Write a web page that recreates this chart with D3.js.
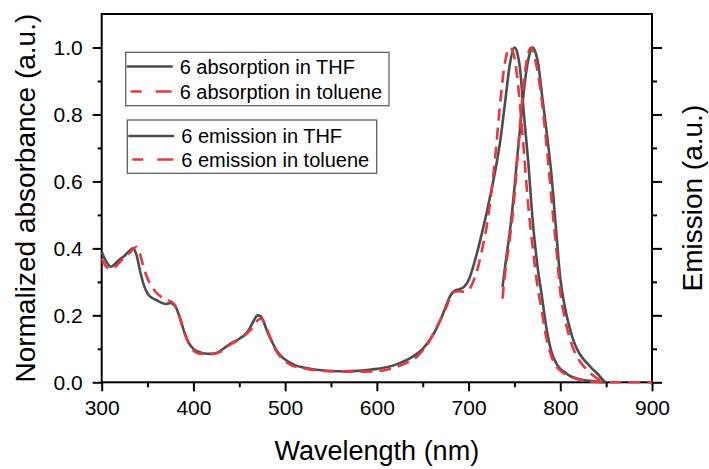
<!DOCTYPE html>
<html>
<head>
<meta charset="utf-8">
<script src="https://cdn.jsdelivr.net/npm/d3@7"></script>
<style>
  html, body { margin: 0; padding: 0; background: #fff; }
  svg { display: block; font-family: "Liberation Sans", Arial, sans-serif; }
</style>
</head>
<body>
<svg id="chart" width="709" height="469"></svg>
<script>
// Absorption of 6 in THF (normalized)
const absTHFWl = [300,305,310,315,320,325,330,334,338,342,346,350,355,360,365,370,375,380,385,390,395,400,405,410,420,425,430,435,440,445,450,455,460,465,470,473,476,480,485,490,495,500,510,520,530,540,560,580,600,620,640,650,660,670,675,680,685,690,695,700,705,710,715,720,725,730,735,740,745,750,753,756,760,765,770,775,780,785,790,795,800,805,810,820,830,840,850];
const absTHF   = [0.39,0.36,0.345,0.355,0.368,0.378,0.392,0.40,0.38,0.33,0.29,0.265,0.252,0.245,0.238,0.234,0.237,0.228,0.195,0.15,0.118,0.10,0.092,0.087,0.085,0.087,0.095,0.105,0.115,0.122,0.13,0.14,0.155,0.18,0.20,0.198,0.185,0.155,0.125,0.098,0.08,0.068,0.052,0.044,0.039,0.036,0.033,0.034,0.04,0.052,0.078,0.10,0.136,0.19,0.225,0.258,0.274,0.278,0.285,0.305,0.345,0.395,0.45,0.51,0.575,0.645,0.73,0.84,0.95,1.0,0.985,0.94,0.81,0.66,0.48,0.35,0.256,0.16,0.095,0.06,0.04,0.03,0.02,0.01,0.005,0.002,0.0];

// Absorption of 6 in toluene (normalized)
const absTolWl = [300,305,310,315,320,325,330,335,338,341,345,350,355,360,365,370,375,380,385,390,395,400,405,410,420,430,436,445,451,458,465,470,474,477,480,485,491,497,506,520,540,560,580,600,620,630,643,650,658,665,670,676,683,690,695,700,705,710,715,720,725,730,735,740,745,750,755,760,765,770,775,780,785,790,795,800,810,820,830,840,850,870,900];
const absTol   = [0.37,0.345,0.338,0.345,0.36,0.375,0.385,0.40,0.405,0.39,0.35,0.31,0.285,0.266,0.255,0.248,0.242,0.23,0.195,0.15,0.115,0.095,0.087,0.085,0.085,0.092,0.105,0.12,0.13,0.145,0.165,0.185,0.19,0.18,0.16,0.125,0.09,0.07,0.052,0.042,0.034,0.032,0.032,0.033,0.045,0.055,0.075,0.095,0.126,0.165,0.19,0.226,0.268,0.272,0.27,0.275,0.30,0.34,0.40,0.47,0.57,0.70,0.85,0.96,1.0,0.97,0.86,0.70,0.53,0.40,0.29,0.21,0.13,0.08,0.05,0.035,0.018,0.008,0.003,0.001,0.0,0.0,0.0];

// Emission of 6 in THF (normalized)
const emTHFWl = [737,741,745,750,753,758,763,767,770,773,776,780,785,790,795,800,805,810,815,820,825,830,835,840,845,849];
const emTHF   = [0.285,0.37,0.45,0.58,0.67,0.81,0.93,0.985,1.0,0.985,0.95,0.86,0.75,0.63,0.47,0.31,0.225,0.165,0.12,0.09,0.07,0.055,0.04,0.027,0.012,0.0];

// Emission of 6 in toluene (normalized)
const emTolWl = [737,740,745,749,755,760,764,768,772,776,782,787,792,796,800,805,810,815,822,830,840,847];
const emTol   = [0.25,0.33,0.43,0.524,0.73,0.89,0.97,1.0,0.97,0.917,0.79,0.65,0.5,0.39,0.27,0.19,0.135,0.095,0.06,0.035,0.012,0.0];

const xTicks = [300,400,500,600,700,800,900];
const yTicks = [0.0,0.2,0.4,0.6,0.8,1.0];
const legendAbs = ["6 absorption in THF", "6 absorption in toluene"];
const legendEm  = ["6 emission in THF", "6 emission in toluene"];

const GREY = "#4d4d4d";
const RED = "#e8383f";
const DASH = "12,7";

const svg = d3.select("#chart");
const plot = { left: 101.7, right: 652, top: 14, bottom: 382.3 };

const x = d3.scaleLinear().domain([300, 900]).range([plot.left, plot.right]);
const y = d3.scaleLinear().domain([0, 1.1]).range([plot.bottom, plot.top]);
const y2 = d3.scaleLinear().domain([0, 1.1]).range([plot.bottom, plot.top]);

const fmt = d3.format(".1f");

// Minor ticks first (short), then labelled major ticks
svg.append("g")
  .attr("transform", `translate(0,${plot.bottom})`)
  .call(d3.axisBottom(x).tickValues(d3.range(350, 900, 100)).tickSize(5).tickFormat(""))
  .call(g => g.select(".domain").remove())
  .call(g => g.selectAll("line").attr("stroke", "#000").attr("stroke-width", 2));

svg.append("g")
  .attr("transform", `translate(0,${plot.bottom})`)
  .call(d3.axisBottom(x).tickValues(xTicks).tickSize(9).tickPadding(9).tickFormat(d3.format("d")))
  .call(g => g.select(".domain").remove())
  .call(g => g.selectAll("line").attr("stroke", "#000").attr("stroke-width", 2))
  .call(g => g.selectAll("text").attr("font-size", 21).attr("fill", "#000")
    .attr("font-family", "'Liberation Sans', Arial, sans-serif"));

svg.append("g")
  .attr("transform", `translate(${plot.left},0)`)
  .call(d3.axisLeft(y).tickValues(d3.range(0.1, 1.05, 0.2)).tickSize(4).tickFormat(""))
  .call(g => g.select(".domain").remove())
  .call(g => g.selectAll("line").attr("stroke", "#000").attr("stroke-width", 2));

svg.append("g")
  .attr("transform", `translate(${plot.left},0)`)
  .call(d3.axisLeft(y).tickValues(yTicks).tickSize(9).tickPadding(10).tickFormat(fmt))
  .call(g => g.select(".domain").remove())
  .call(g => g.selectAll("line").attr("stroke", "#000").attr("stroke-width", 2))
  .call(g => g.selectAll("text").attr("font-size", 21).attr("fill", "#000")
    .attr("font-family", "'Liberation Sans', Arial, sans-serif"));

// Right (emission) axis: ticks only
svg.append("g")
  .attr("transform", `translate(${plot.right},0)`)
  .call(d3.axisRight(y2).tickValues(d3.range(0.1, 1.05, 0.2)).tickSize(5).tickFormat(""))
  .call(g => g.select(".domain").remove())
  .call(g => g.selectAll("line").attr("stroke", "#000").attr("stroke-width", 2));

svg.append("g")
  .attr("transform", `translate(${plot.right},0)`)
  .call(d3.axisRight(y2).tickValues(yTicks).tickSize(10).tickFormat(""))
  .call(g => g.select(".domain").remove())
  .call(g => g.selectAll("line").attr("stroke", "#000").attr("stroke-width", 2));

// Frame
svg.append("rect")
  .attr("x", plot.left).attr("y", plot.top)
  .attr("width", plot.right - plot.left).attr("height", plot.bottom - plot.top)
  .attr("fill", "none").attr("stroke", "#000").attr("stroke-width", 2);

// Curves
const line = d3.line()
  .x(d => x(d[0]))
  .y(d => y(d[1]))
  .curve(d3.curveMonotoneX);
const line2 = d3.line()
  .x(d => x(d[0]))
  .y(d => y2(d[1]))
  .curve(d3.curveMonotoneX);

const zip = (a, b) => a.map((v, i) => [v, b[i]]);

const curves = svg.append("g");
curves.append("path").datum(zip(absTHFWl, absTHF))
  .attr("d", line).attr("fill", "none").attr("stroke", GREY).attr("stroke-width", 2.6);
curves.append("path").datum(zip(emTHFWl, emTHF))
  .attr("d", line2).attr("fill", "none").attr("stroke", GREY).attr("stroke-width", 2.6);
curves.append("path").datum(zip(absTolWl, absTol))
  .attr("d", line).attr("fill", "none").attr("stroke", RED).attr("stroke-width", 2.6)
  .attr("stroke-dasharray", DASH);
curves.append("path").datum(zip(emTolWl, emTol))
  .attr("d", line2).attr("fill", "none").attr("stroke", RED).attr("stroke-width", 2.6)
  .attr("stroke-dasharray", DASH);

// Legends
function legend(box, rows, labels) {
  const g = svg.append("g");
  g.append("rect")
    .attr("x", box.x).attr("y", box.y).attr("width", box.w).attr("height", box.h)
    .attr("fill", "#fff").attr("stroke", "#555").attr("stroke-width", 1.2);
  labels.forEach((t, i) => {
    const ry = rows[i];
    g.append("line")
      .attr("x1", box.x + 1).attr("x2", box.x + 47).attr("y1", ry).attr("y2", ry)
      .attr("stroke", i === 0 ? GREY : RED).attr("stroke-width", 2.6)
      .attr("stroke-dasharray", i === 0 ? null : "0,4,11,14,16,10");
    g.append("text")
      .attr("x", box.x + 54).attr("y", ry).attr("dy", "0.36em")
      .attr("font-size", 20).attr("fill", "#000")
      .text(t);
  });
}
legend({ x: 125.7, y: 52.3, w: 263.3, h: 53.4 }, [66.5, 91.5], legendAbs);
legend({ x: 127.3, y: 120, w: 249.4, h: 53.3 }, [136, 159.5], legendEm);

// Axis titles
svg.append("text")
  .attr("x", (plot.left + plot.right) / 2).attr("y", 460)
  .attr("text-anchor", "middle").attr("font-size", 27).attr("fill", "#000")
  .text("Wavelength (nm)");

svg.append("text")
  .attr("transform", `translate(35,${(plot.top + plot.bottom) / 2}) rotate(-90)`)
  .attr("text-anchor", "middle").attr("font-size", 28).attr("fill", "#000")
  .text("Normalized absorbance (a.u.)");

svg.append("text")
  .attr("transform", `translate(702,${(plot.top + plot.bottom) / 2}) rotate(-90)`)
  .attr("text-anchor", "middle").attr("font-size", 28).attr("fill", "#000")
  .text("Emission (a.u.)");
</script>
</body>
</html>
